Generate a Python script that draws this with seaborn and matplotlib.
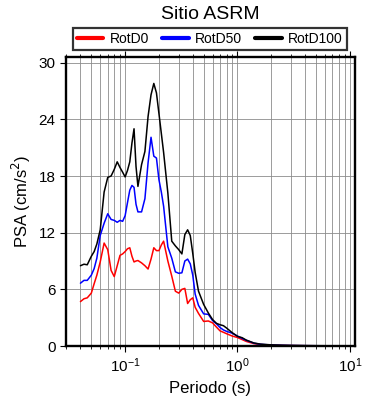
import numpy as np
import pandas as pd
import matplotlib
matplotlib.use("Agg")
import matplotlib.pyplot as plt
import seaborn as sns

# Periodos (s) y PSA (cm/s^2)
periodos = [0.04, 0.043, 0.046, 0.05, 0.053, 0.056, 0.06, 0.065, 0.07, 0.075,
            0.08, 0.085, 0.09, 0.095, 0.1, 0.105, 0.11, 0.115, 0.12, 0.125,
            0.13, 0.14, 0.15, 0.16, 0.17, 0.18, 0.19, 0.20, 0.21, 0.22,
            0.24, 0.26, 0.28, 0.30, 0.32, 0.34, 0.36, 0.38, 0.40, 0.42,
            0.45, 0.5, 0.55, 0.6, 0.65, 0.7, 0.75, 0.8, 0.9, 1.0,
            1.1, 1.2, 1.4, 1.6, 2.0, 2.5, 3.0, 4.0, 5.0, 6.0, 7.5, 10.0]

rotd0 = [4.7, 5.0, 5.1, 5.6, 6.6, 7.5, 8.9, 10.9, 10.2, 8.0,
         7.35, 8.5, 9.6, 9.75, 10.0, 10.3, 10.4, 9.5, 8.9, 9.0,
         9.05, 8.8, 8.5, 8.15, 9.2, 10.4, 10.1, 10.1, 10.7, 11.1,
         9.0, 7.4, 5.8, 5.6, 6.0, 6.1, 4.5, 4.9, 5.1, 4.1,
         3.45, 2.6, 2.65, 2.45, 2.0, 1.6, 1.45, 1.3, 1.05, 0.9,
         0.68, 0.48, 0.25, 0.15, 0.09, 0.06, 0.045, 0.03, 0.025, 0.02, 0.015, 0.012]

rotd50 = [6.65, 6.95, 6.95, 7.5, 8.2, 9.3, 11.7, 13.0, 14.0, 13.4,
          13.3, 13.1, 13.3, 13.2, 13.8, 15.2, 16.5, 17.0, 16.8, 15.0,
          14.2, 14.2, 15.6, 19.4, 22.1, 20.1, 19.9, 17.6, 16.3, 14.8,
          10.5, 9.3, 7.85, 7.7, 7.75, 9.0, 9.2, 8.7, 7.5, 5.5,
          4.3, 3.4, 3.35, 2.7, 2.35, 1.95, 1.7, 1.55, 1.35, 1.05,
          0.8, 0.6, 0.3, 0.18, 0.1, 0.07, 0.05, 0.035, 0.028, 0.022, 0.018, 0.013]

rotd100 = [8.5, 8.66, 8.6, 9.5, 10.0, 10.8, 12.3, 16.3, 17.85, 18.0,
           18.7, 19.5, 18.9, 18.4, 17.9, 18.6, 19.5, 21.5, 23.0, 19.0,
           16.9, 19.2, 20.6, 24.3, 26.6, 27.8, 26.8, 24.6, 22.5, 20.5,
           16.2, 11.1, 10.6, 10.2, 9.75, 11.8, 12.3, 11.7, 9.8, 7.8,
           5.8, 4.4, 3.5, 2.8, 2.4, 2.25, 2.15, 1.9, 1.4, 1.02,
           0.88, 0.62, 0.32, 0.2, 0.12, 0.08, 0.06, 0.04, 0.03, 0.025, 0.02, 0.015]

componentes = ["RotD0", "RotD50", "RotD100"]
colores = ["red", "blue", "black"]

df = pd.DataFrame({
    "Periodo": periodos * 3,
    "PSA": rotd0 + rotd50 + rotd100,
    "Comp": [c for c in componentes for _ in periodos],
})

sns.set_style("white")
plt.rcParams["font.family"] = ["Liberation Sans", "DejaVu Sans"]
plt.rcParams["text.color"] = "black"
plt.rcParams["axes.labelcolor"] = "black"
plt.rcParams["xtick.color"] = "black"
plt.rcParams["ytick.color"] = "black"

fig = plt.figure(figsize=(3.9, 4.0), dpi=100)
ax = fig.add_axes([0.169, 0.135, 0.741, 0.7225])

sns.lineplot(data=df, x="Periodo", y="PSA", hue="Comp", hue_order=componentes,
             palette=colores, linewidth=1.1, ax=ax, legend=False, sort=False)

ax.set_xscale("log")
ax.set_xlim(0.0297, 11.1)
ax.set_ylim(0, 30.6)
ax.set_yticks(np.arange(0, 31, 6))

ax.grid(True, which="both", axis="x", color="#8c8c8c", linewidth=0.6)
ax.grid(True, which="major", axis="y", color="#8c8c8c", linewidth=0.6)
ax.set_axisbelow(True)

for s in ax.spines.values():
    s.set_linewidth(1.7)
    s.set_color("black")

ax.tick_params(axis="both", which="major", direction="out", length=4, width=0.8,
               labelsize=11, top=True, bottom=True, left=True, right=False)
ax.tick_params(axis="x", which="minor", direction="out", length=2.5, width=0.6,
               top=True, bottom=True)

ax.set_xlabel("Periodo (s)", fontsize=12)
ax.set_ylabel("PSA (cm/s$^2$)", fontsize=12)

ax.text(0.5, 1.148, "Sitio ASRM", transform=ax.transAxes, ha="center",
        va="center", fontsize=14)

handles = [plt.Line2D([], [], color=c, linewidth=3) for c in colores]
leg = ax.legend(handles, componentes, ncol=3, loc="lower left",
                bbox_to_anchor=(0.024, 1.024, 0.948, 0.076), mode="expand",
                fontsize=10, frameon=True, fancybox=False, borderaxespad=0,
                handlelength=1.9, handletextpad=0.45, borderpad=0.3,
                columnspacing=1.2)
leg.get_frame().set_edgecolor("black")
leg.get_frame().set_linewidth(1.6)

fig.savefig("out.png", dpi=100)
